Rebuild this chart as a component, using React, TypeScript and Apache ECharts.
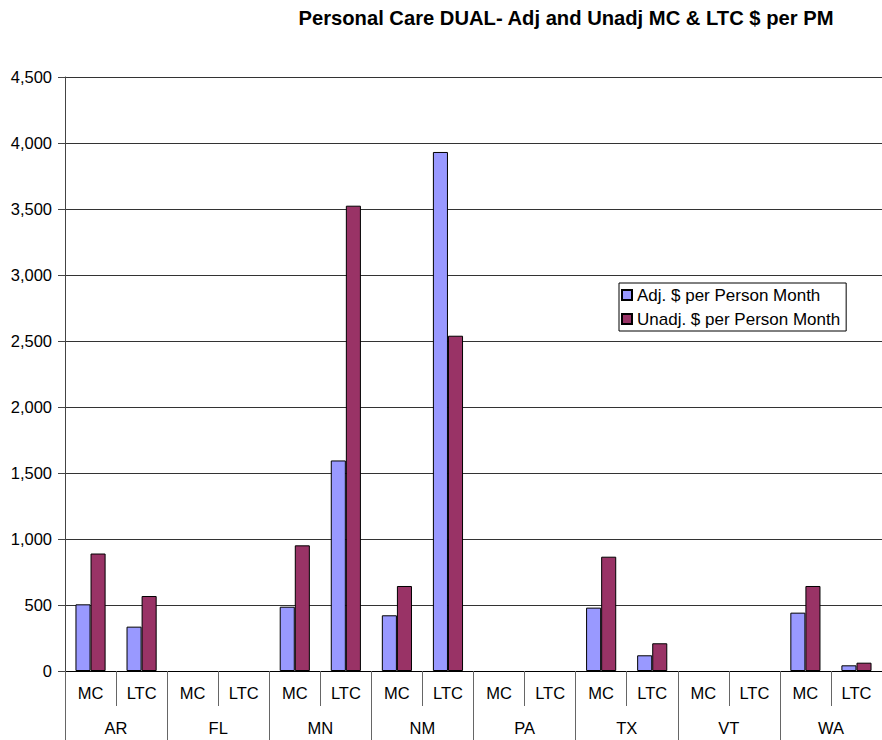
import React, { useEffect, useRef } from "react";
import * as echarts from "echarts";

// Personal Care DUAL: adjusted vs unadjusted $ per person month, by state and program
const states = ["AR", "FL", "MN", "NM", "PA", "TX", "VT", "WA"];
const programs = ["MC", "LTC"];
const categories = states.flatMap((s) => programs.map((p) => `${s} ${p}`));

const adjPerPM = [505, 336, null, null, 487, 1595, 422, 3932, null, null, 480, 119, null, null, 442, 43];
const unadjPerPM = [890, 568, null, null, 952, 3525, 644, 2540, null, null, 866, 210, null, null, 644, 63];

const yTicks = { min: 0, max: 4500, interval: 500 };

const FONT = "Liberation Sans, Arial, sans-serif";
const AXIS_FONT = 16.5;

export default function App() {
  const ref = useRef<HTMLDivElement>(null);

  useEffect(() => {
    if (!ref.current) return;
    const chart = echarts.init(ref.current, null, { renderer: "svg" });
    chart.setOption({
      animation: false,
      backgroundColor: "#ffffff",
      textStyle: { fontFamily: FONT },
      title: {
        text: "Personal Care DUAL- Adj and Unadj MC & LTC $ per PM",
        left: 561,
        textAlign: "center",
        top: 3,
        textStyle: { fontFamily: FONT, fontSize: 20.2, fontWeight: "bold", color: "#000" },
      },
      legend: {
        orient: "vertical",
        left: 619,
        top: 283,
        padding: [3.5, 6, 3.5, 2],
        itemGap: 7,
        itemWidth: 10,
        itemHeight: 10,
        icon: "rect",
        borderColor: "#000",
        borderWidth: 1,
        backgroundColor: "#fff",
        textStyle: { fontFamily: FONT, fontSize: 17, color: "#000" },
        data: ["Adj. $ per Person Month", "Unadj. $ per Person Month"],
      },
      grid: { left: 65, right: 0, top: 77, bottom: 69, containLabel: false },
      xAxis: [
        {
          type: "category",
          data: categories,
          position: "bottom",
          axisLine: { show: true, lineStyle: { color: "#000", width: 1 } },
          axisTick: { show: true, interval: 0, length: 35, lineStyle: { color: "#666" } },
          axisLabel: {
            interval: 0,
            margin: 13,
            color: "#000",
            fontSize: AXIS_FONT,
            fontFamily: FONT,
            formatter: (v: string) => v.split(" ")[1],
          },
        },
        {
          type: "category",
          data: states,
          position: "bottom",
          axisLine: { show: false },
          axisTick: { show: true, interval: 0, length: 69, lineStyle: { color: "#666" } },
          axisLabel: { interval: 0, margin: 48, color: "#000", fontSize: AXIS_FONT, fontFamily: FONT },
        },
      ],
      yAxis: {
        type: "value",
        ...yTicks,
        axisLine: { show: true, lineStyle: { color: "#444" } },
        axisTick: { show: true, length: 7, lineStyle: { color: "#444" } },
        axisLabel: {
          color: "#000",
          fontSize: AXIS_FONT,
          fontFamily: FONT,
          margin: 13,
          formatter: (v: number) => v.toLocaleString("en-US"),
        },
        splitLine: { show: true, lineStyle: { color: "#333", width: 1 } },
      },
      series: [
        {
          name: "Adj. $ per Person Month",
          type: "bar",
          data: adjPerPM,
          barGap: "0%",
          barCategoryGap: "41%",
          itemStyle: { color: "#9999FF", borderColor: "#000", borderWidth: 1 },
        },
        {
          name: "Unadj. $ per Person Month",
          type: "bar",
          data: unadjPerPM,
          barGap: "0%",
          barCategoryGap: "41%",
          itemStyle: { color: "#993366", borderColor: "#000", borderWidth: 1 },
        },
      ],
    });
    return () => chart.dispose();
  }, []);

  return (
    <div
      ref={ref}
      style={{ position: "fixed", left: 0, top: 0, width: 882, height: 740, background: "#fff" }}
    />
  );
}
